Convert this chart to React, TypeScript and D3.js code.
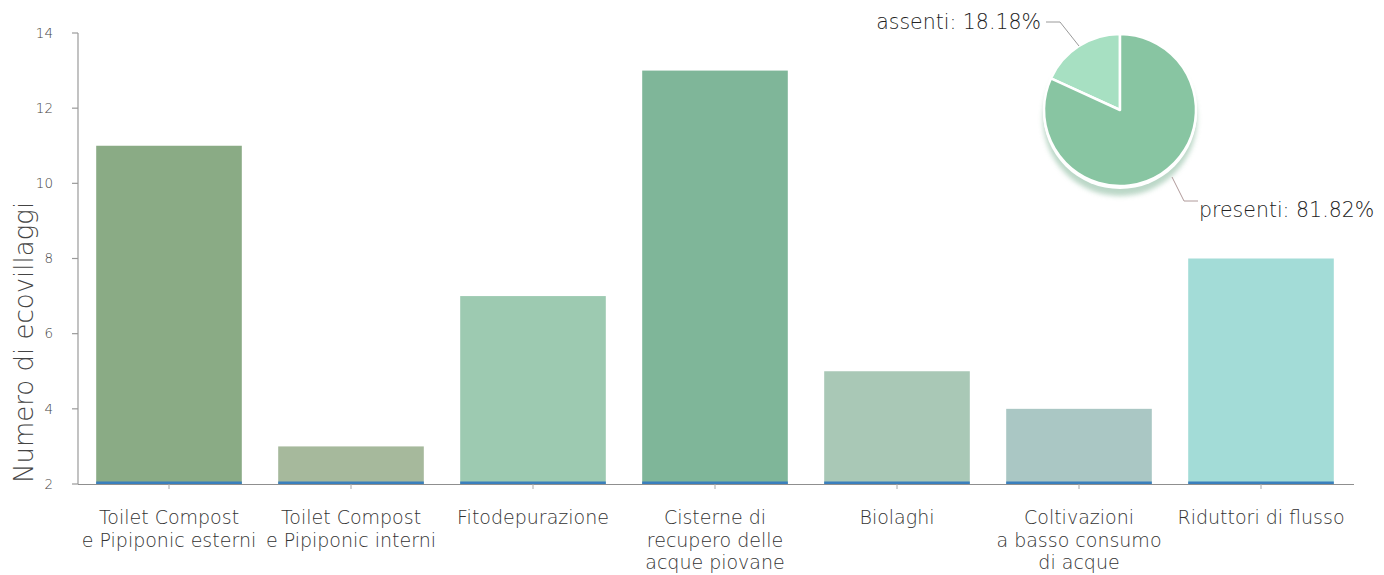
import React from "react";
import * as d3 from "d3";

const categories: string[][] = [
  ["Toilet Compost", "e Pipiponic esterni"],
  ["Toilet Compost", "e Pipiponic interni"],
  ["Fitodepurazione"],
  ["Cisterne di", "recupero delle", "acque piovane"],
  ["Biolaghi"],
  ["Coltivazioni", "a basso consumo", "di acque"],
  ["Riduttori di flusso"],
];
const values: number[] = [11, 3, 7, 13, 5, 4, 8];
const barColors: string[] = ["#8aab85", "#a6b99c", "#9dcab1", "#7fb699", "#a9c8b6", "#aac7c4", "#a3dcd7"];
const yTicks: number[] = [2, 4, 6, 8, 10, 12, 14];

const pieLabels: string[] = ["assenti", "presenti"];
const pieValues: number[] = [18.18, 81.82];
const pieColors: string[] = ["#a7e0c2", "#88c5a2"];

const W = 1384;
const H = 575;
const FONT = "'DejaVu Sans', sans-serif";

export default function App() {
  const x = d3
    .scaleBand<number>()
    .domain(d3.range(values.length))
    .range([78, 1352])
    .paddingInner(0.2)
    .paddingOuter(0.1);
  const y = d3.scaleLinear().domain([2, 14]).range([484, 33]);

  // pie: assenti slice sits counter-clockwise from 12 o'clock
  const total = d3.sum(pieValues);
  const a0 = -(pieValues[0] / total) * 2 * Math.PI;
  const pieAngles = [
    { start: a0, end: 0 },
    { start: 0, end: 2 * Math.PI + a0 },
  ];
  const cx = 1120;
  const cy = 110;
  const r = 76;
  const arc = d3.arc<{ start: number; end: number }>()
    .innerRadius(0)
    .outerRadius(r)
    .startAngle((d) => d.start)
    .endAngle((d) => d.end);

  return (
    <svg
      width={W}
      height={H}
      style={{ position: "absolute", left: 0, top: 0, background: "#fff" }}
      fontFamily={FONT}
    >
      <defs>
        <filter id="soft" x="-20%" y="-20%" width="140%" height="140%">
          <feGaussianBlur stdDeviation="2.5" />
        </filter>
      </defs>

      {/* y axis */}
      <line x1={78} x2={78} y1={y(14)} y2={y(2)} stroke="#9a9a9a" strokeWidth={1.2} />
      {yTicks.map((t) => (
        <g key={t} transform={`translate(0,${y(t)})`}>
          <line x1={72} x2={78} stroke="#9a9a9a" strokeWidth={1.2} />
          <text x={53} dy="0.35em" textAnchor="end" fontSize={13.5} fill="#444" fontWeight={200}>
            {t}
          </text>
        </g>
      ))}
      <text
        transform={`translate(33,483) rotate(-90)`}
        fontSize={26}
        fill="#444"
        fontWeight={200}
      >
        Numero di ecovillaggi
      </text>

      {/* bars */}
      {values.map((v, i) => (
        <g key={i}>
          <rect
            x={x(i)!}
            y={y(v)}
            width={x.bandwidth()}
            height={y(2) - y(v)}
            fill={barColors[i]}
          />
          <rect x={x(i)!} y={y(2) - 2.5} width={x.bandwidth()} height={2.5} fill="#3a7fbd" />
        </g>
      ))}

      {/* x axis */}
      <line x1={78} x2={1354} y1={y(2) + 0.5} y2={y(2) + 0.5} stroke="#8f8f8f" strokeWidth={1.2} />
      {values.map((_, i) => {
        const c = x(i)! + x.bandwidth() / 2;
        return <line key={i} x1={c} x2={c} y1={y(2)} y2={y(2) + 5} stroke="#aaa" strokeWidth={1} />;
      })}
      {categories.map((lines, i) => {
        const c = x(i)! + x.bandwidth() / 2;
        return (
          <text key={i} x={c} y={524} textAnchor="middle" fontSize={19} fill="#333" fontWeight={200}>
            {lines.map((l, j) => (
              <tspan key={j} x={c} dy={j === 0 ? 0 : 22.5}>
                {l}
              </tspan>
            ))}
          </text>
        );
      })}

      {/* pie */}
      <circle cx={cx} cy={cy + 9} r={r + 1} fill="#b4d3c1" filter="url(#soft)" opacity={0.9} />
      <circle cx={cx} cy={cy + 2} r={r + 1} fill="#ffffff" />
      <g transform={`translate(${cx},${cy})`}>
        {pieAngles.map((d, i) => (
          <path key={i} d={arc(d)!} fill={pieColors[i]} stroke="#fff" strokeWidth={2.5} strokeLinejoin="round" />
        ))}
      </g>

      {/* leader lines */}
      <polyline points="1046,22 1060,22 1079,46" fill="none" stroke="#9a9a9a" strokeWidth={1} />
      <polyline points="1172,177 1184,201 1198,201" fill="none" stroke="#b09a9a" strokeWidth={1} />
      <text x={1041} y={29} textAnchor="end" fontSize={20.5} fill="#222" fontWeight={200}>
        {`${pieLabels[0]}: ${pieValues[0].toFixed(2)}%`}
      </text>
      <text x={1199} y={217} fontSize={20.5} fill="#222" fontWeight={200}>
        {`${pieLabels[1]}: ${pieValues[1].toFixed(2)}%`}
      </text>
    </svg>
  );
}
